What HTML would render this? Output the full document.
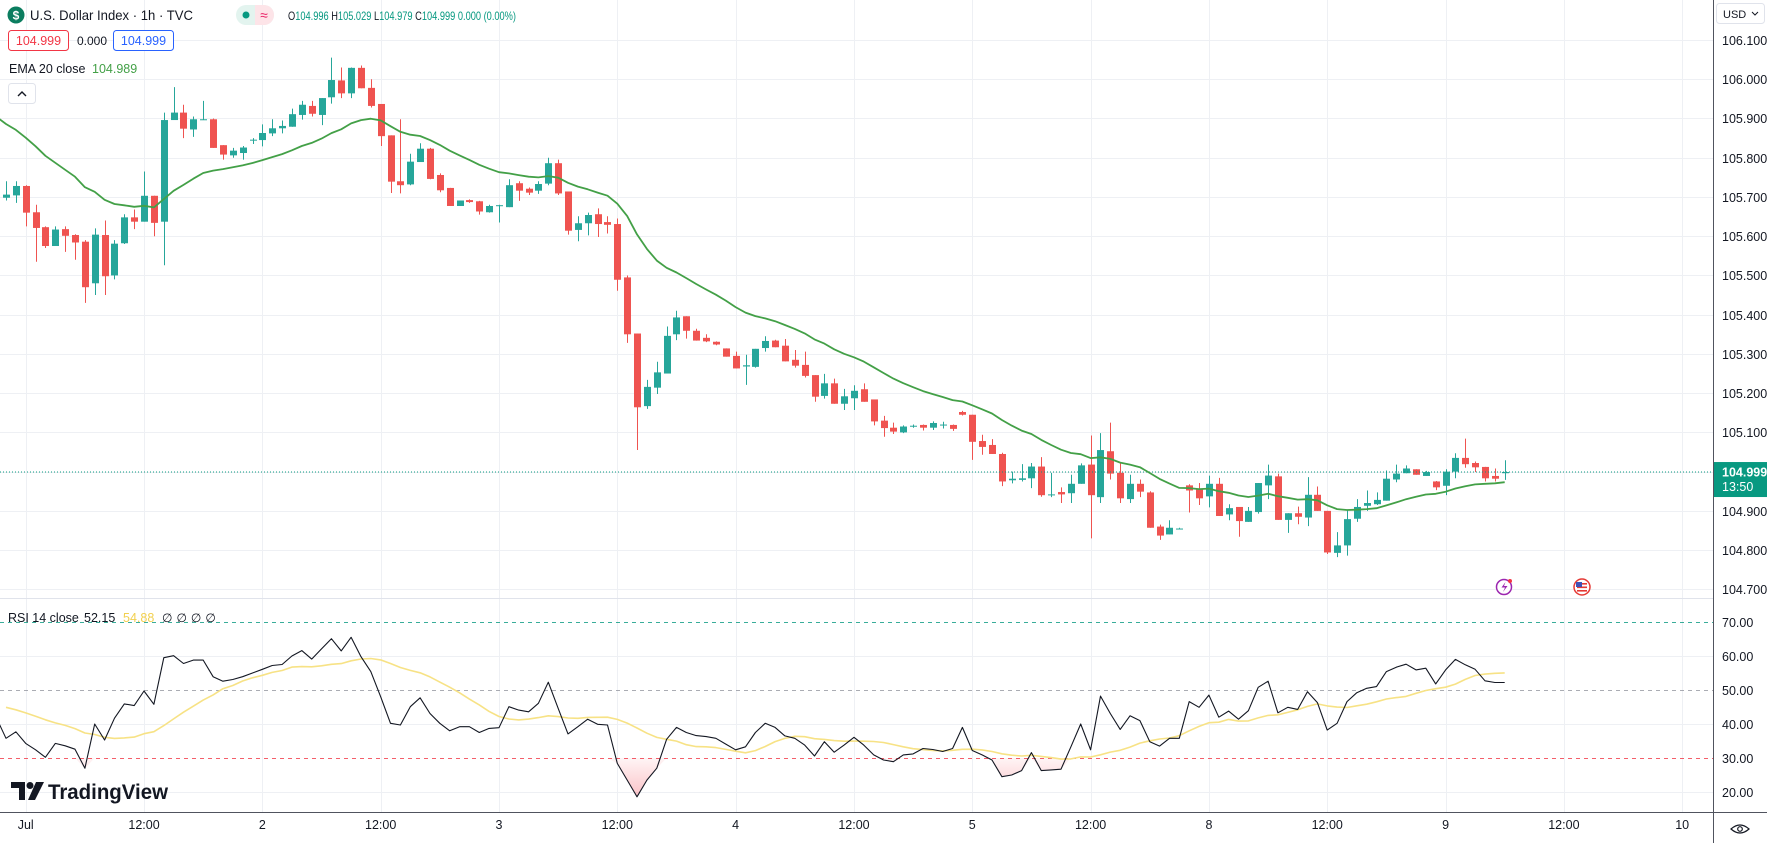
<!DOCTYPE html>
<html><head><meta charset="utf-8"><title>U.S. Dollar Index 1h</title>
<style>
html,body{margin:0;padding:0;background:#fff;}
svg{display:block;font-family:"Liberation Sans",Arial,sans-serif;}
</style></head>
<body>
<svg id="chart" xmlns="http://www.w3.org/2000/svg" width="1767" height="843" viewBox="0 0 1767 843">
<defs>
<linearGradient id="osGrad" x1="0" y1="0" x2="0" y2="1">
<stop offset="0" stop-color="#f23645" stop-opacity="0.05"/>
<stop offset="1" stop-color="#f23645" stop-opacity="0.3"/>
</linearGradient>
</defs>
<rect x="0" y="0" width="1767" height="843" fill="#fff"/>
<g id="grid"></g>
<g id="rsiPane"></g>
<g id="candles"></g>
<g id="overlay"></g>
<g id="axes"></g>

<!-- header -->
<g>
<circle cx="16" cy="15" r="8.5" fill="#0b7d5f"/>
<text x="16" y="19.5" font-size="12" font-weight="bold" fill="#fff" text-anchor="middle">$</text>
<text x="30" y="20" font-size="14" fill="#131722" textLength="163" lengthAdjust="spacingAndGlyphs">U.S. Dollar Index · 1h · TVC</text>
<rect x="236" y="5" width="38" height="20" rx="10" fill="#e3f4ef"/>
<path d="M255 5 h9 a10 10 0 0 1 0 20 h-9 z" fill="#fde4e8"/>
<circle cx="246" cy="15" r="3.5" fill="#089981"/>
<text x="264" y="20" font-size="14" fill="#e91e63" text-anchor="middle">≈</text>
<text x="288" y="20" font-size="12" textLength="228" lengthAdjust="spacingAndGlyphs"><tspan fill="#131722">O</tspan><tspan fill="#089981">104.996 </tspan><tspan fill="#131722">H</tspan><tspan fill="#089981">105.029 </tspan><tspan fill="#131722">L</tspan><tspan fill="#089981">104.979 </tspan><tspan fill="#131722">C</tspan><tspan fill="#089981">104.999 0.000 (0.00%)</tspan></text>
<rect x="8.5" y="30.5" width="60" height="20" rx="3" fill="#fff" stroke="#f23645"/>
<text x="38.5" y="45" font-size="12.5" fill="#f23645" text-anchor="middle">104.999</text>
<text x="77" y="45" font-size="12" fill="#131722">0.000</text>
<rect x="113.5" y="30.5" width="60" height="20" rx="3" fill="#fff" stroke="#2962ff"/>
<text x="143.5" y="45" font-size="12.5" fill="#2962ff" text-anchor="middle">104.999</text>
<text x="9" y="73" font-size="12.5" fill="#131722">EMA 20 close</text>
<text x="92" y="73" font-size="12.5" fill="#43a047">104.989</text>
<rect x="8.5" y="83.5" width="27" height="20" rx="3" fill="#fff" stroke="#e0e3eb"/>
<path d="M18 96 l4 -4 l4 4" fill="none" stroke="#131722" stroke-width="1.4"/>
</g>

<!-- RSI legend -->
<g>
<text x="8" y="622" font-size="12.5" fill="#131722">RSI 14 close</text>
<text x="84" y="622" font-size="12.5" fill="#131722">52.15</text>
<text x="123" y="622" font-size="12.5" fill="#f2d04f">54.88</text>
<text x="162" y="622" font-size="12" fill="#131722" letter-spacing="4">∅∅∅∅</text>
</g>

<!-- logo -->
<g>
<path d="M11 782 h14 v18 h-6 v-12 h-8 z" fill="#131722"/>
<circle cx="30" cy="785.5" r="3.5" fill="#131722"/>
<path d="M36 782 h8 l-9 18 h-7 z" fill="#131722"/>
<text x="48" y="799" font-size="21" font-weight="bold" fill="#131722" textLength="120" lengthAdjust="spacingAndGlyphs">TradingView</text>
</g>

<!-- right top USD -->
<g>
<rect x="1716.5" y="3.5" width="48" height="20" rx="3" fill="#fff" stroke="#e0e3eb"/>
<text x="1723" y="18" font-size="11" fill="#131722">USD</text>
<path d="M1752 12 l3 3 l3 -3" fill="none" stroke="#131722" stroke-width="1"/>
</g>

<!-- events -->
<g>
<circle cx="1504" cy="587" r="7.5" fill="#fff" stroke="#9c27b0" stroke-width="1.5"/>
<path d="M1505.5 582 l-4 5.5 h3.5 l-2 4.5 l4.5 -6 h-3.5 z" fill="#9c27b0"/>
<circle cx="1510" cy="581" r="2" fill="#f23645"/>
<circle cx="1582" cy="587" r="8" fill="#fff" stroke="#e53935" stroke-width="1.5"/>
<rect x="1577" y="583" width="10" height="1.6" fill="#e53935"/>
<rect x="1577" y="586.5" width="10" height="1.6" fill="#e53935"/>
<rect x="1577" y="590" width="10" height="1.6" fill="#e53935"/>
<rect x="1576" y="582" width="6" height="5" fill="#3f51b5"/>
</g>

<!-- eye icon -->
<g>
<path d="M1731 829 q9 -8 18 0 q-9 8 -18 0 z" fill="none" stroke="#131722" stroke-width="1.2"/>
<circle cx="1740" cy="829" r="2.3" fill="none" stroke="#131722" stroke-width="1.2"/>
</g>
</svg>

<script>
// ---- data ----
const opens = [105.698,105.704,105.728,105.661,105.623,105.575,105.618,105.603,105.586,105.480,105.603,105.500,105.582,105.648,105.637,105.703,105.637,105.896,105.915,105.872,105.896,105.898,105.832,105.806,105.812,105.845,105.845,105.862,105.875,105.879,105.909,105.932,105.909,105.954,105.997,105.964,106.029,105.978,105.937,105.857,105.740,105.732,105.789,105.823,105.756,105.723,105.677,105.692,105.689,105.661,105.677,105.674,105.735,105.721,105.716,105.734,105.786,105.714,105.616,105.633,105.656,105.636,105.631,105.495,105.352,105.167,105.214,105.250,105.350,105.396,105.359,105.341,105.331,105.314,105.295,105.268,105.267,105.315,105.334,105.321,105.285,105.272,105.246,105.193,105.225,105.173,105.187,105.210,105.184,105.130,105.112,105.100,105.116,105.119,105.112,105.119,105.119,105.152,105.145,105.078,105.068,105.045,104.978,104.979,104.983,105.013,104.941,104.948,104.945,104.969,105.018,104.935,105.052,104.997,104.930,104.969,104.947,104.860,104.840,104.855,104.965,104.956,104.937,104.969,104.891,104.910,104.872,104.897,104.965,104.988,104.877,104.894,104.883,104.941,104.900,104.793,104.812,104.880,104.913,104.917,104.926,104.980,104.996,105.006,104.989,104.975,104.964,105.000,105.035,105.022,105.012,104.989,104.996];
const highs = [105.740,105.740,105.730,105.680,105.625,105.625,105.625,105.605,105.590,105.620,105.640,105.590,105.656,105.668,105.765,105.703,105.915,105.980,105.935,105.905,105.945,105.900,105.832,105.825,105.830,105.850,105.885,105.898,105.895,105.925,105.945,105.945,105.952,106.055,106.030,106.030,106.035,106.000,105.937,105.857,105.898,105.810,105.837,105.825,105.760,105.723,105.690,105.694,105.690,105.680,105.680,105.745,105.740,105.724,105.740,105.800,105.795,105.714,105.651,105.660,105.671,105.651,105.645,105.500,105.352,105.234,105.280,105.370,105.410,105.396,105.364,105.350,105.332,105.314,105.306,105.298,105.313,105.345,105.336,105.338,105.310,105.306,105.246,105.249,105.237,105.211,105.220,105.225,105.184,105.142,105.125,105.118,105.120,105.120,105.128,105.127,105.120,105.155,105.145,105.094,105.083,105.048,105.000,105.019,105.022,105.037,104.997,104.960,104.992,105.021,105.092,105.098,105.125,105.024,104.992,104.980,104.950,104.865,104.876,104.857,104.968,104.971,104.990,104.984,104.917,104.910,104.910,104.971,105.018,104.995,104.894,104.911,104.986,104.962,104.900,104.846,104.902,104.930,104.952,104.947,105.003,105.018,105.016,105.006,105.002,104.976,105.006,105.047,105.084,105.026,105.012,105.008,105.029];
const lows = [105.691,105.685,105.625,105.535,105.570,105.575,105.560,105.540,105.430,105.450,105.450,105.490,105.580,105.618,105.637,105.600,105.526,105.896,105.850,105.853,105.896,105.825,105.795,105.800,105.795,105.835,105.829,105.855,105.862,105.879,105.897,105.905,105.883,105.938,105.952,105.952,105.977,105.928,105.830,105.710,105.709,105.730,105.789,105.745,105.712,105.677,105.677,105.685,105.655,105.660,105.635,105.674,105.690,105.705,105.708,105.730,105.705,105.604,105.587,105.602,105.598,105.607,105.461,105.328,105.055,105.160,105.198,105.250,105.335,105.339,105.334,105.330,105.322,105.293,105.263,105.221,105.265,105.306,105.317,105.281,105.265,105.240,105.178,105.186,105.173,105.157,105.157,105.178,105.118,105.089,105.096,105.098,105.112,105.105,105.106,105.110,105.104,105.143,105.030,105.043,105.045,104.963,104.970,104.975,104.958,104.936,104.935,104.920,104.920,104.969,104.830,104.920,104.980,104.920,104.920,104.935,104.857,104.826,104.840,104.855,104.896,104.915,104.909,104.887,104.876,104.834,104.872,104.893,104.930,104.877,104.844,104.866,104.861,104.900,104.790,104.782,104.786,104.872,104.900,104.915,104.926,104.973,104.996,104.992,104.989,104.953,104.940,104.983,105.010,104.999,104.975,104.975,104.979];
const closes = [105.706,105.728,105.660,105.621,105.575,105.617,105.601,105.584,105.470,105.604,105.498,105.581,105.648,105.637,105.703,105.634,105.896,105.915,105.874,105.898,105.898,105.825,105.808,105.818,105.826,105.846,105.863,105.875,105.881,105.911,105.935,105.912,105.952,105.998,105.964,106.029,105.977,105.932,105.855,105.739,105.730,105.790,105.823,105.746,105.717,105.677,105.691,105.687,105.663,105.677,105.679,105.730,105.716,105.711,105.733,105.786,105.709,105.614,105.633,105.654,105.631,105.629,105.489,105.350,105.164,105.216,105.253,105.346,105.393,105.359,105.334,105.332,105.324,105.293,105.263,105.271,105.313,105.333,105.317,105.281,105.270,105.244,105.191,105.225,105.173,105.192,105.206,105.178,105.128,105.111,105.102,105.115,105.117,105.112,105.124,105.120,105.109,105.145,105.076,105.063,105.045,104.975,104.982,104.983,105.013,104.940,104.942,104.942,104.969,105.016,104.940,105.055,104.995,104.932,104.969,104.949,104.857,104.837,104.857,104.855,104.952,104.932,104.969,104.887,104.907,104.874,104.900,104.971,104.990,104.877,104.894,104.885,104.941,104.900,104.794,104.812,104.879,104.910,104.920,104.928,104.982,104.995,105.008,104.992,104.999,104.960,105.000,105.035,105.019,105.011,104.983,104.982,104.999];
const rsiValues = [35.8,37.7,34.3,32.4,30.2,34.3,33.6,32.6,27.0,40.0,35.3,41.7,45.9,45.4,49.7,45.8,59.5,60.1,57.8,58.8,58.8,53.9,52.6,53.1,53.9,55.0,56.1,57.2,57.5,60.0,61.6,59.1,62.1,65.1,61.5,65.5,59.8,55.4,48.0,40.2,39.7,45.1,47.7,43.1,40.2,38.0,39.2,39.2,37.5,38.7,38.9,45.1,44.1,43.6,46.1,52.3,44.6,37.1,39.2,41.4,39.9,39.7,28.4,23.5,18.6,23.5,27.0,35.5,39.0,37.5,36.6,36.3,35.8,34.1,32.4,33.3,37.5,40.2,39.0,36.5,35.8,33.8,30.6,34.8,31.7,33.8,36.1,33.8,30.9,29.4,28.9,30.9,31.2,32.8,32.5,31.9,32.8,39.0,32.2,30.9,29.4,24.5,25.0,26.3,31.6,26.3,26.5,26.7,33.3,40.0,32.4,48.2,43.1,38.4,42.4,41.0,34.8,33.5,35.8,35.8,46.6,44.9,48.5,42.0,43.8,41.4,43.9,50.8,52.6,43.3,44.9,44.3,49.5,46.3,38.2,40.2,46.6,49.2,50.5,51.0,55.4,56.7,57.6,55.9,56.4,51.8,55.9,59.0,57.4,56.1,52.7,52.2,52.2];
const rsiWarmup = [48,47,46,45,47,44,46,45,46,47,46,44,42];
const emaSeed = 105.905;
const emaLength = 20;
const rsiMaLength = 14;
const priceTicks = [106.1,106.0,105.9,105.8,105.7,105.6,105.5,105.4,105.3,105.2,105.1,105.0,104.9,104.8,104.7];
const rsiTicks = [70,60,50,40,30,20];
const timeLabels = ['Jul','12:00','2','12:00','3','12:00','4','12:00','5','12:00','8','12:00','9','12:00','10'];
const timeLabelIndex = [2,14,26,38,50,62,74,86,98,110,122,134,146,158,170];
const lastPrice = 104.999;

// ---- scales ----
const NS = 'http://www.w3.org/2000/svg';
const PLOT_R = 1713;
const AXIS_Y = 812;
function xOf(i){ return 6 + i*9.86; }
function yP(p){ return 40 + (106.1 - p)*392.4; }
function yR(r){ return 622 + (70 - r)*3.4; }
function mk(tag, attrs, parent){
  const e = document.createElementNS(NS, tag);
  for (const k in attrs) e.setAttribute(k, attrs[k]);
  parent.appendChild(e);
  return e;
}
const grid = document.getElementById('grid');
const rsiPane = document.getElementById('rsiPane');
const candleG = document.getElementById('candles');
const overlay = document.getElementById('overlay');
const axes = document.getElementById('axes');

// vertical grid
timeLabelIndex.forEach((ix) => {
  const x = Math.round(xOf(ix)) + 0.5;
  const l = mk('line', {x1:x, y1:0, x2:x, y2:AXIS_Y, stroke:'#eef0f4', 'stroke-width':1}, grid);
  
  
});
// horizontal price grid
priceTicks.forEach((p) => {
  const y = Math.round(yP(p)) + 0.5;
  const l = mk('line', {x1:0, y1:y, x2:PLOT_R, y2:y, stroke:'#eef0f4', 'stroke-width':1}, grid);
  
  
  const t = mk('text', {x:1722, y:y+4.5, 'font-size':12.5, fill:'#131722'}, axes);
  t.textContent = p.toFixed(3);
  
  
});
// pane separator
const sep = mk('line', {x1:0, y1:598.5, x2:PLOT_R, y2:598.5, stroke:'#e0e3eb', 'stroke-width':1}, grid);



// RSI grid
const rsiStyles = {70:['#089981','4,4'],50:['#9598a1','4,4'],30:['#f23645','4,4']};
rsiTicks.forEach((r) => {
  const y = Math.round(yR(r)) + 0.5;
  let l;
  if (rsiStyles[r]) {
    l = mk('line', {x1:0, y1:y, x2:PLOT_R, y2:y, stroke:rsiStyles[r][0], 'stroke-width':1, 'stroke-dasharray':rsiStyles[r][1], opacity:0.8}, grid);
  } else {
    l = mk('line', {x1:0, y1:y, x2:PLOT_R, y2:y, stroke:'#eef0f4', 'stroke-width':1}, grid);
  }
  
  
  const t = mk('text', {x:1722, y:y+4.5, 'font-size':12.5, fill:'#131722'}, axes);
  t.textContent = r.toFixed(2);
  
  
});

// time labels
timeLabels.forEach((lab, k) => {
  const t = mk('text', {x:xOf(timeLabelIndex[k]), y:AXIS_Y+17, 'font-size':12.5, fill:'#131722', 'text-anchor':'middle'}, axes);
  t.textContent = lab;
  
  
});

// axes borders
const vAxis = mk('line', {x1:PLOT_R+0.5, y1:0, x2:PLOT_R+0.5, y2:843, stroke:'#50535e', 'stroke-width':1}, axes);


const hAxis = mk('line', {x1:0, y1:AXIS_Y+0.5, x2:1767, y2:AXIS_Y+0.5, stroke:'#50535e', 'stroke-width':1}, axes);



// current price line
const yLast = yP(lastPrice);
const pl = mk('line', {x1:0, y1:yLast, x2:PLOT_R, y2:yLast, stroke:'#089981', 'stroke-width':1, 'stroke-dasharray':'1,2'}, overlay);


const pb = mk('rect', {x:PLOT_R+1, y:yLast-10, width:54, height:35, fill:'#089981'}, axes);


const pt = mk('text', {x:1722, y:yLast+4.5, 'font-size':12.5, 'font-weight':'bold', fill:'#fff'}, axes);
pt.textContent = lastPrice.toFixed(3);


const ct = mk('text', {x:1722, y:yLast+19, 'font-size':12.5, fill:'#fff'}, axes);
ct.textContent = '13:50';



// candles
for (let i = 0; i < closes.length; i++) {
  const up = closes[i] >= opens[i];
  const col = up ? '#26a69a' : '#ef5350';
  const x = Math.round(xOf(i));
  const w = mk('line', {x1:x+0.5, y1:yP(highs[i]), x2:x+0.5, y2:yP(lows[i]), stroke:col, 'stroke-width':1}, candleG);
  
  
  const top = yP(Math.max(opens[i], closes[i]));
  const bot = yP(Math.min(opens[i], closes[i]));
  const b = mk('rect', {x:x-3, y:top, width:7, height:Math.max(1, bot-top), fill:col}, candleG);
  
  
}

// EMA
let ema = emaSeed;
const alpha = 2/(emaLength+1);
let emaPts = [];
for (let i = 0; i < closes.length; i++) {
  ema = alpha*closes[i] + (1-alpha)*ema;
  emaPts.push(xOf(i).toFixed(1) + ',' + yP(ema).toFixed(1));
}
const emaLine = mk('polyline', {points:'-4,' + yP(emaSeed).toFixed(1) + ' ' + emaPts.join(' '), fill:'none', stroke:'#43a047', 'stroke-width':1.8, 'stroke-linejoin':'round'}, overlay);



// RSI
const allRsi = rsiWarmup.concat(rsiValues);
const off = rsiWarmup.length;
const y30 = yR(30);
let rsiPts = ['' + xOf(-1).toFixed(1) + ',' + yR(rsiWarmup[off-1]).toFixed(1)];
let fillPts = [xOf(-1).toFixed(1) + ',' + y30];
for (let i = -1; i < rsiValues.length; i++) {
  const v = allRsi[i+off];
  if (i >= 0) rsiPts.push(xOf(i).toFixed(1) + ',' + yR(v).toFixed(1));
  fillPts.push(xOf(i).toFixed(1) + ',' + Math.max(yR(v), y30).toFixed(1));
}
fillPts.push(xOf(rsiValues.length-1).toFixed(1) + ',' + y30);
const osFill = mk('polygon', {points:fillPts.join(' '), fill:'url(#osGrad)'}, rsiPane);



let maPts = [];
for (let i = 0; i < rsiValues.length; i++) {
  let s = 0;
  for (let k = 0; k < rsiMaLength; k++) s += allRsi[i+off-k];
  maPts.push(xOf(i).toFixed(1) + ',' + yR(s/rsiMaLength).toFixed(1));
}
const maLine = mk('polyline', {points:maPts.join(' '), fill:'none', stroke:'#f7e285', 'stroke-width':1.6, 'stroke-linejoin':'round'}, rsiPane);


const rsiLine = mk('polyline', {points:rsiPts.join(' '), fill:'none', stroke:'#131722', 'stroke-width':1.1, 'stroke-linejoin':'round'}, rsiPane);


</script>
</body></html>
